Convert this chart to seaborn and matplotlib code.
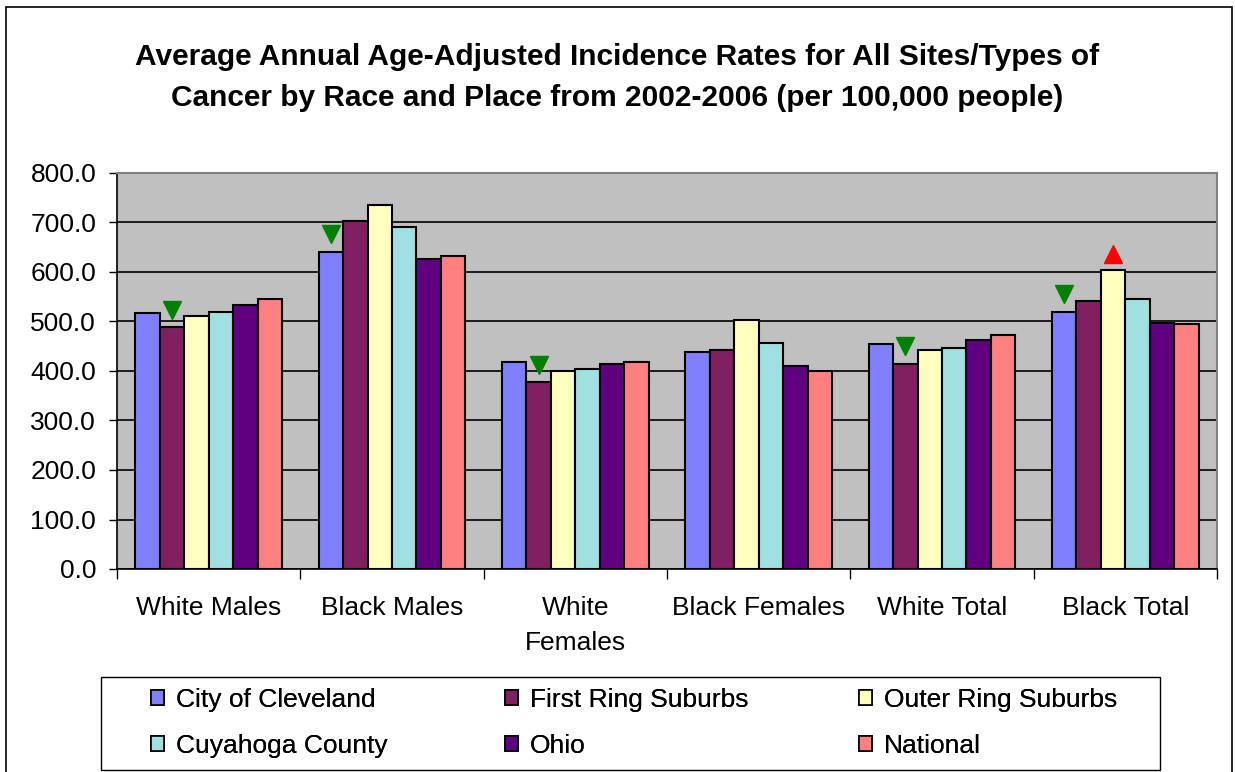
import matplotlib
matplotlib.use("Agg")
import matplotlib.pyplot as plt
import matplotlib.patches as mpatches
from matplotlib.ticker import FixedLocator, FuncFormatter
import seaborn as sns
import pandas as pd
import numpy as np

categories = ["White Males", "Black Males", "White Females", "Black Females", "White Total", "Black Total"]
tick_labels = ["White Males", "Black Males", "White\nFemales", "Black Females", "White Total", "Black Total"]
places = ["City of Cleveland", "First Ring Suburbs", "Outer Ring Suburbs", "Cuyahoga County", "Ohio", "National"]

city_of_cleveland = [518, 641, 419, 438, 454, 519]
first_ring_suburbs = [488, 704, 377, 442, 415, 542]
outer_ring_suburbs = [511, 735, 399, 503, 442, 604]
cuyahoga_county = [519, 691, 404, 457, 447, 546]
ohio = [534, 626, 415, 411, 462, 496]
national = [546, 633, 419, 399, 473, 495]

colors = ["#8080FF", "#802060", "#FFFFC0", "#A0E0E0", "#600080", "#FF8080"]

# significance markers: (category, place)
down_markers = [("White Males", "First Ring Suburbs"), ("Black Males", "City of Cleveland"),
                ("White Females", "First Ring Suburbs"), ("White Total", "First Ring Suburbs"),
                ("Black Total", "City of Cleveland")]
up_markers = [("Black Total", "Outer Ring Suburbs")]

series = [city_of_cleveland, first_ring_suburbs, outer_ring_suburbs, cuyahoga_county, ohio, national]
rows = []
for p, vals in zip(places, series):
    for c, v in zip(categories, vals):
        rows.append({"Group": c, "Place": p, "Rate": v})
df = pd.DataFrame(rows)

sns.set_style("white")
plt.rcParams["font.family"] = ["Liberation Sans", "DejaVu Sans"]
for k in ["text.color", "axes.labelcolor", "xtick.color", "ytick.color"]:
    plt.rcParams[k] = "black"

W, H = 1235, 772
fig = plt.figure(figsize=(W / 100, H / 100), dpi=100)
ax = fig.add_axes([117 / W, 1 - 569 / H, 1100 / W, 396 / H])
ax.set_facecolor("#C0C0C0")

sns.barplot(data=df, x="Group", y="Rate", hue="Place", order=categories, hue_order=places,
            palette=colors, edgecolor="black", linewidth=1.5, width=0.8, saturation=1,
            ax=ax, legend=False, zorder=3)

ax.set_ylim(0, 800)
ax.set_xlim(-0.5, len(categories) - 0.5)
ax.yaxis.set_major_locator(FixedLocator(np.arange(0, 801, 100)))
ax.yaxis.set_major_formatter(FuncFormatter(lambda v, p: f"{v:.1f}"))
ax.grid(axis="y", color="black", linewidth=1.2, zorder=0)
ax.set_axisbelow(True)
ax.tick_params(axis="y", which="major", length=6, width=1, color="black", direction="out",
               pad=9, labelsize=19, left=True)
ax.set_xticks(range(len(categories)))
ax.set_xticklabels(tick_labels, fontsize=19, linespacing=1.6)
ax.tick_params(axis="x", which="major", length=0, pad=19.5)
ax.set_xticks(np.arange(-0.5, len(categories)), minor=True)
ax.tick_params(axis="x", which="minor", length=7, width=1, color="black", direction="out", bottom=True)
ax.set_xlabel("")
ax.set_ylabel("")

for s in ["left", "bottom"]:
    ax.spines[s].set_color("black")
    ax.spines[s].set_linewidth(1.2)
for s in ["top", "right"]:
    ax.spines[s].set_color("#808080")
    ax.spines[s].set_linewidth(1.5)


def bar_top(cat, place):
    patch = ax.containers[places.index(place)][categories.index(cat)]
    return patch.get_x() + patch.get_width() / 2, patch.get_height()


for cat, place in down_markers:
    x, h = bar_top(cat, place)
    ax.plot([x], [h + 36], marker="v", color="#008000", markersize=13, linestyle="none", zorder=5)
for cat, place in up_markers:
    x, h = bar_top(cat, place)
    ax.plot([x], [h + 32], marker="^", color="#FF0000", markersize=13, linestyle="none", zorder=5)

# title
fig.text(617 / W, 1 - 77.5 / H,
         "Average Annual Age-Adjusted Incidence Rates for All Sites/Types of\n"
         "Cancer by Race and Place from 2002-2006 (per 100,000 people)",
         ha="center", va="center", fontsize=21.5, fontweight="bold", linespacing=1.55)

# legend: frame + three columns
handles = {p: mpatches.Patch(facecolor=c, edgecolor="black", linewidth=1.2, label=p)
           for p, c in zip(places, colors)}
columns = [(151, ["City of Cleveland", "Cuyahoga County"]),
           (505, ["First Ring Suburbs", "Ohio"]),
           (859, ["Outer Ring Suburbs", "National"])]
for xpx, names in columns:
    lg = fig.legend([handles[n] for n in names], names, loc="center left",
                    bbox_to_anchor=(xpx / W, 1 - 723 / H), fontsize=19, frameon=False,
                    handlelength=0.5, handleheight=0.5, handletextpad=0.45,
                    labelspacing=0.85, borderpad=0, borderaxespad=0)
    fig.add_artist(lg)

frame = mpatches.Rectangle((101 / W, 1 - 770 / H), 1059 / W, 93 / H, transform=fig.transFigure,
                           fill=False, edgecolor="black", linewidth=1.0)
fig.patches.append(frame)

# outer chart border
border = mpatches.Rectangle((6 / W, -0.05), 1226 / W, 1 - 7 / H + 0.05, transform=fig.transFigure,
                            fill=False, edgecolor="black", linewidth=1.2, clip_on=False)
fig.patches.append(border)

fig.savefig("out.png", dpi=100, facecolor="white")
